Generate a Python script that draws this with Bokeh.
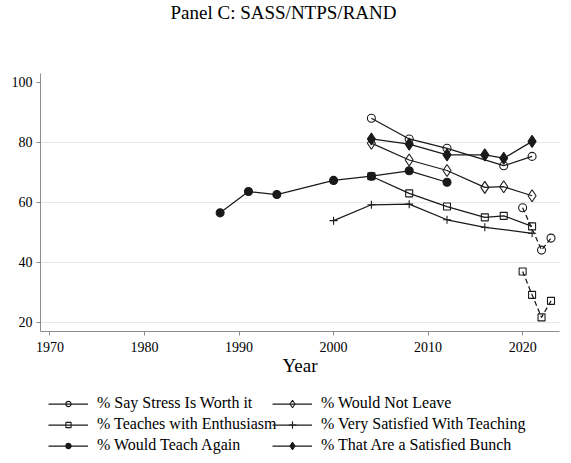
from bokeh.plotting import figure
from bokeh.layouts import column
from bokeh.models import Legend, LegendItem, FixedTicker, Range1d, Label
from bokeh.embed import file_html
from bokeh.resources import INLINE

# ---- data ----
stress_years = [2004, 2008, 2012, 2018, 2021]
stress_vals = [88.0, 81.1, 78.0, 72.2, 75.3]
stress_rand_years = [2020, 2022, 2023]
stress_rand_vals = [58.2, 44.1, 48.1]

leave_years = [2004, 2008, 2012, 2016, 2018, 2021]
leave_vals = [79.7, 74.1, 70.6, 65.0, 65.2, 62.2]

enth_years = [2004, 2008, 2012, 2016, 2018, 2021]
enth_vals = [68.7, 63.0, 58.6, 55.0, 55.5, 52.0]
enth_rand_years = [2020, 2021, 2022, 2023]
enth_rand_vals = [37.0, 29.2, 21.7, 27.2]

vsat_years = [2000, 2004, 2008, 2012, 2016, 2021]
vsat_vals = [53.9, 59.2, 59.4, 54.2, 51.7, 49.7]

again_years = [1988, 1991, 1994, 2000, 2004, 2008, 2012]
again_vals = [56.5, 63.6, 62.6, 67.3, 68.7, 70.5, 66.7]

bunch_years = [2004, 2008, 2012, 2016, 2018, 2021]
bunch_vals = [81.1, 79.4, 75.8, 75.8, 74.7, 80.3]

x_ticks = [1970, 1980, 1990, 2000, 2010, 2020]
y_ticks = [20, 40, 60, 80, 100]
grid_ticks = [20, 40, 60, 80]

title_text = "Panel C: SASS/NTPS/RAND"
labels = ["% Say Stress Is Worth it", "% Would Not Leave",
          "% Teaches with Enthusiasm", "% Very Satisfied With Teaching",
          "% Would Teach Again", "% That Are a Satisfied Bunch"]

SERIF = "Liberation Serif"
BLACK = "#1a1a1a"
W = 571
LEFT, RIGHT = 40, 12

def blank(height):
    f = figure(width=W, height=height, output_backend="svg",
               toolbar_location=None, x_axis_type=None, y_axis_type=None,
               min_border=0, x_range=Range1d(1969.0, 2023.9),
               y_range=Range1d(17.0, 102.9))
    f.outline_line_color = None
    f.grid.grid_line_color = None
    return f

# ---- title strip (frame aligned with the main plot's frame) ----
t = blank(38)
t.add_layout(Label(x=243, y=26, x_units="screen", y_units="screen",
                   text=title_text, text_font=SERIF, text_font_size="19px",
                   text_color="black", text_align="center",
                   text_baseline="middle"))

# ---- main plot ----
p = figure(width=W, height=345, output_backend="svg",
           toolbar_location=None, min_border_left=LEFT, min_border_right=RIGHT,
           min_border_top=35, min_border_bottom=52,
           x_range=Range1d(1969.0, 2023.9), y_range=Range1d(17.0, 102.9))
p.outline_line_color = None

p.xgrid.grid_line_color = None
p.ygrid.ticker = FixedTicker(ticks=grid_ticks)
p.ygrid.grid_line_color = "#e6e6e6"
p.ygrid.grid_line_width = 1

for ax in (p.xaxis[0], p.yaxis[0]):
    ax.axis_line_color = "#8c8c8c"
    ax.major_tick_line_color = "#8c8c8c"
    ax.major_tick_out = 4
    ax.major_tick_in = 0
    ax.minor_tick_line_color = None
    ax.major_label_text_font = SERIF
    ax.major_label_text_font_size = "14px"
    ax.major_label_text_color = "black"

p.xaxis.major_label_standoff = 6
p.yaxis.major_label_standoff = 4
p.xaxis.ticker = FixedTicker(ticks=x_ticks)
p.yaxis.ticker = FixedTicker(ticks=y_ticks)
p.xaxis.axis_label = "Year"
p.xaxis.axis_label_text_font = SERIF
p.xaxis.axis_label_text_font_size = "19px"
p.xaxis.axis_label_text_font_style = "normal"
p.xaxis.axis_label_text_color = "black"
p.xaxis.axis_label_standoff = 0

LW = 1.25

def series(fig, xs, ys, marker, size, fill, dash="solid", visible=True):
    l = fig.line(xs, ys, line_color=BLACK, line_width=LW, line_dash=dash,
                 visible=visible)
    s = fig.scatter(xs, ys, marker=marker, size=size, line_color=BLACK,
                    line_width=1.1, fill_color=fill, visible=visible)
    return [l, s]

specs = [
    (stress_years, stress_vals, "circle", 8, None),
    (leave_years, leave_vals, "diamond", 12, None),
    (enth_years, enth_vals, "square", 7, None),
    (vsat_years, vsat_vals, "cross", 8, None),
    (again_years, again_vals, "circle", 8, BLACK),
    (bunch_years, bunch_vals, "diamond", 12, BLACK),
]
for xs, ys, m, s, f in specs:
    series(p, xs, ys, m, s, f)
series(p, stress_rand_years, stress_rand_vals, "circle", 8, None, "5 3")
series(p, enth_rand_years, enth_rand_vals, "square", 7, None, "5 3")

# ---- legend strip (keys only; series hidden there) ----
lg = blank(80)
items = []
for lab, (xs, ys, m, s, f) in zip(labels, specs):
    rs = series(lg, xs, ys, m, 5, f, visible=False)
    items.append(LegendItem(label=lab, renderers=rs))

def make_legend(its, x, gh):
    return Legend(items=its, orientation="vertical",
                  location=(x, 8), label_text_font=SERIF,
                  label_text_font_size="16px", label_text_color="black",
                  glyph_width=40, glyph_height=gh, label_standoff=9,
                  spacing=1, padding=0, margin=0, border_line_color=None,
                  background_fill_alpha=0, label_height=20,
                  inactive_fill_alpha=0)

lg.add_layout(make_legend(items[0::2], 8, 13))
lg.add_layout(make_legend(items[1::2], 232, 19))

layout = column(t, p, lg, spacing=0)
open("out.html", "w").write(file_html(layout, INLINE))
